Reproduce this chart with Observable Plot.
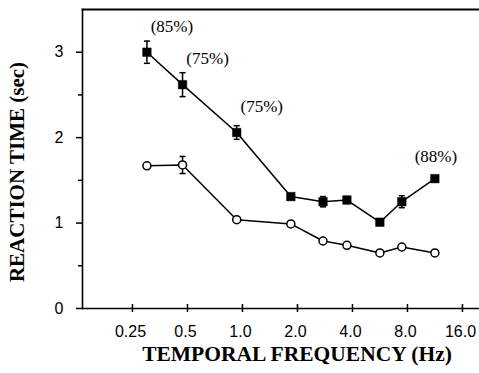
<!DOCTYPE html>
<html><head><meta charset="utf-8">
<script src="https://cdn.jsdelivr.net/npm/d3@7"></script>
<script src="https://cdn.jsdelivr.net/npm/@observablehq/plot@0.6"></script>
<style>body{margin:0;background:#fff}</style>
</head><body><div id="chart"></div>
<script>
// Data
const frequencies = [0.30, 0.47, 0.93, 1.84, 2.76, 3.73, 5.65, 7.45, 11.3];
const filledRT   = [3.00, 2.62, 2.06, 1.31, 1.25, 1.27, 1.01, 1.25, 1.52];
const filledErr  = [0.13, 0.14, 0.08, 0.03, 0.06, 0.04, 0.03, 0.07, 0.03];
const openRT     = [1.67, 1.68, 1.04, 0.99, 0.79, 0.74, 0.65, 0.72, 0.65];
const openErr    = [0, 0.10, 0, 0, 0, 0, 0, 0, 0];
const percentLabels = ["(85%)", "(75%)", "(75%)", null, null, null, null, null, "(88%)"];
const xTicks = [0.25, 0.5, 1, 2, 4, 8, 16];
const xTickLabels = ["0.25", "0.5", "1.0", "2.0", "4.0", "8.0", "16.0"];
const yTicks = [0, 1, 2, 3];
const yTickLabels = ["0", "1", "2", "3"];
const yMinorTicks = [0.5, 1.5, 2.5];
const xTitle = "TEMPORAL FREQUENCY (Hz)";
const yTitle = "REACTION TIME (sec)";

const filled = frequencies.map((f, i) => ({f, rt: filledRT[i], err: filledErr[i], label: percentLabels[i], i}));
const open = frequencies.map((f, i) => ({f, rt: openRT[i], err: openErr[i], i}));

const W = 479, H = 373, mL = 82, mR = 0, mT = 9, mB = 65;
const innerH = H - mT - mB;
const serif = "'Liberation Serif', 'Times New Roman', Times, serif";
const sans = "'Liberation Sans', Arial, Helvetica, sans-serif";
const capSymbol = {draw(ctx, size) { const w = Math.sqrt(size) / 2; ctx.moveTo(-w, 0); ctx.lineTo(w, 0); }};

const filledErrs = filled.filter(d => d.err > 0);
const openErrs = open.filter(d => d.err > 0);

const chart = Plot.plot({
  width: W, height: H,
  marginLeft: mL, marginRight: mR, marginTop: mT, marginBottom: mB,
  style: {background: "#fff", fontFamily: sans, color: "black"},
  x: {type: "log", base: 2, domain: [0.1332, 19.83], label: null},
  y: {domain: [0, 3.5], label: null},
  marks: [
    Plot.frame({anchor: "left", strokeWidth: 1.6}),
    Plot.frame({anchor: "top", strokeWidth: 1.8}),
    Plot.frame({anchor: "bottom", strokeWidth: 1.6}),
    Plot.axisY(yTicks, {tickSize: 6, tickPadding: 13, fontSize: 16, strokeWidth: 1.5, label: null,
      tickFormat: d => yTickLabels[yTicks.indexOf(d)]}),
    Plot.axisY(yMinorTicks, {tickSize: 4, tickFormat: () => "", strokeWidth: 1.5, label: null}),
    Plot.axisX(xTicks, {tickSize: 0, tickPadding: 17, fontSize: 16, dx: -2,
      tickFormat: d => xTickLabels[xTicks.indexOf(d)], label: null}),
    Plot.tickX(xTicks, {x: d => d, insetTop: innerH - 4, insetBottom: -4, strokeWidth: 1.5}),
    Plot.text([xTitle], {frameAnchor: "bottom", textAnchor: "middle", dx: 16, dy: 52, fontSize: 21.5, fontWeight: "bold", fontFamily: serif}),
    Plot.text([yTitle], {frameAnchor: "left", textAnchor: "middle", rotate: -90, dx: -65, dy: 13, fontSize: 21, fontWeight: "bold", fontFamily: serif}),
    // error bars
    Plot.ruleX(filledErrs, {x: "f", y1: d => d.rt - d.err, y2: d => d.rt + d.err, strokeWidth: 1.5}),
    Plot.dot(filledErrs, {x: "f", y: d => d.rt + d.err, symbol: capSymbol, r: 3.4, stroke: "black", strokeWidth: 1.5}),
    Plot.dot(filledErrs, {x: "f", y: d => d.rt - d.err, symbol: capSymbol, r: 3.4, stroke: "black", strokeWidth: 1.5}),
    Plot.ruleX(openErrs, {x: "f", y1: d => d.rt - d.err, y2: d => d.rt + d.err, strokeWidth: 1.5}),
    Plot.dot(openErrs, {x: "f", y: d => d.rt + d.err, symbol: capSymbol, r: 3.4, stroke: "black", strokeWidth: 1.5}),
    Plot.dot(openErrs, {x: "f", y: d => d.rt - d.err, symbol: capSymbol, r: 3.4, stroke: "black", strokeWidth: 1.5}),
    // lines
    Plot.line(filled, {x: "f", y: "rt", stroke: "black", strokeWidth: 1.5}),
    Plot.line(open, {x: "f", y: "rt", stroke: "black", strokeWidth: 1.5}),
    // markers
    Plot.dot(filled, {x: "f", y: "rt", symbol: "square", r: 4.8, fill: "black", stroke: "black", strokeWidth: 0.5}),
    Plot.dot(open, {x: "f", y: "rt", r: 4, fill: "white", stroke: "black", strokeWidth: 1.5}),
    // percentage annotations
    Plot.text(filled.filter(d => d.label && d.i < 3), {x: "f", y: "rt", text: "label", dx: 25, dy: -26, fontSize: 17, fontFamily: serif}),
    Plot.text(filled.filter(d => d.label && d.i >= 3), {x: "f", y: "rt", text: "label", dx: 1, dy: -22, fontSize: 17, fontFamily: serif})
  ]
});
document.getElementById("chart").appendChild(chart);
</script>
</body></html>
